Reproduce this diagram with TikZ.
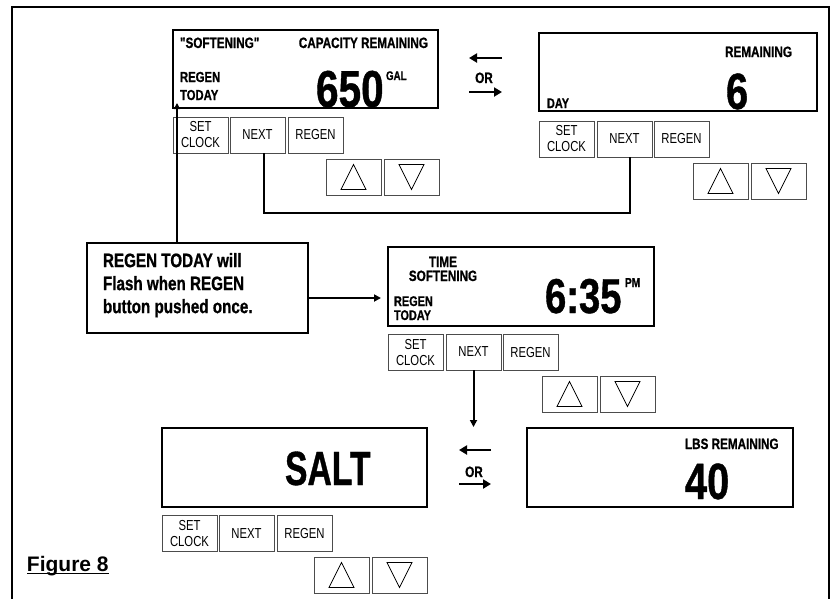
\documentclass[tikz,border=0pt]{standalone}
\usepackage{fontspec}
\setmainfont{Liberation Sans}
\newfontfamily\cond[FakeStretch=0.78, BoldFeatures={FakeBold=0.8}]{Liberation Sans}
\usetikzlibrary{arrows.meta,calc}
\newcommand\dfont[1]{\cond\bfseries\fontsize{#1}{#1}\selectfont}
\newcommand\udpair[3]{%
  \node[btn] (#1u) at (#2,#3) {};
  \node[btn] (#1d) at ($(#2,#3)+(58,0)$) {};
  \draw[tri] ($(#1u.center)+(-12.5,12.5)$) -- ($(#1u.center)+(12.5,12.5)$) -- ($(#1u.center)+(0,-12.5)$) -- cycle;
  \draw[tri] ($(#1d.center)+(-12.5,-12.5)$) -- ($(#1d.center)+(12.5,-12.5)$) -- ($(#1d.center)+(0,12.5)$) -- cycle;
}
\tikzset{
  frame/.style={line width=2.5pt},
  disp/.style={draw, line width=2.2pt, inner sep=0, outer sep=0, anchor=north west},
  btn/.style={draw=black!70, line width=0.9pt, inner sep=0, outer sep=0,
    minimum width=55, minimum height=36, anchor=north west, align=center,
    font=\cond\fontsize{14.5}{16}\selectfont},
  tri/.style={line width=0.8pt},
  dt/.style={inner sep=0, outer sep=0, anchor=base west},
  conn/.style={line width=2pt},
  thinconn/.style={line width=1.3pt},
  arr/.style={line width=2pt, -{Triangle[length=7pt,width=7pt]}},
  orarr/.style={line width=2.6pt, -{Triangle[length=8pt,width=9pt]}},
  callout/.style={draw, line width=2pt, inner sep=0, outer sep=0, anchor=north west},
}
\begin{document}
\begin{tikzpicture}[x=1pt,y=-1pt]
\useasboundingbox (0,0) rectangle (832,598);
\draw[frame] (12,602) -- (12,7) -- (829,7) -- (829,602);

% display 1
\node[disp, minimum width=265, minimum height=78] (d1) at (173,30) {};
\node[dt, font=\dfont{15}] (t1a) at (180,48) {"SOFTENING"};
\node[dt, font=\dfont{15}, anchor=base east] (t1b) at (428,48) {CAPACITY REMAINING};
\node[dt, font=\dfont{14.5}] (t1c) at (180,82) {REGEN};
\node[dt, font=\dfont{14.5}] (t1d) at (180,100) {TODAY};
\node[dt, font=\dfont{52}] (t1e) at (316,107) {650};
\node[dt, font=\dfont{12.5}] (t1f) at (386,80) {GAL};
\node[btn] (s1) at (173,117) {SET\\CLOCK};
\node[btn] (n1) at (230,117) {NEXT};
\node[btn] (r1) at (288,117) {REGEN};
\udpair{a1}{326}{159}

% OR top
\coordinate (o1a) at (469,58);
\coordinate (o1b) at (502,58);
\coordinate (o1c) at (469,92);
\coordinate (o1d) at (502,92);
\draw[orarr] (o1b) -- (o1a);
\draw[orarr] (o1c) -- (o1d);
\node[dt, anchor=base, font=\dfont{15}] (or1) at (484,83) {OR};

% display 2
\node[disp, minimum width=278, minimum height=78] (d2) at (539,33) {};
\node[dt, font=\dfont{15}, anchor=base east] (t2a) at (792,57) {REMAINING};
\node[dt, font=\dfont{51}] (t2b) at (726,109) {6};
\node[dt, font=\dfont{14}] (t2c) at (547,108) {DAY};
\node[btn] (s2) at (539,121) {SET\\CLOCK};
\node[btn] (n2) at (597,121) {NEXT};
\node[btn] (r2) at (654,121) {REGEN};
\udpair{a2}{693}{163}

\draw[conn] ([xshift=6pt]n1.south) -- ++(0,60) -| ([xshift=5pt]n2.south);

% callout
\node[callout, minimum width=221, minimum height=90] (co) at (87,243) {};
\node[inner sep=0, outer sep=0, anchor=north west, align=left,
  font=\cond\bfseries\fontsize{19.5}{23}\selectfont] (cot) at (103,253)
  {REGEN TODAY will\\Flash when REGEN\\button pushed once.};
\coordinate (p1) at (177,103);
\draw[line width=2pt, -{Triangle[length=6pt,width=6pt]}] (co.north -| p1) -- (p1);
\coordinate (p2m) at (348,298);
\coordinate (p2) at (381,298);
\draw[thinconn] (co.east |- p2m) -- (p2m);
\draw[arr] (p2m) -- (p2);

% display 3
\node[disp, minimum width=266, minimum height=79] (d3) at (388,247) {};
\node[dt, anchor=base, font=\dfont{15}] (t3a) at (443,267) {TIME};
\node[dt, anchor=base, font=\dfont{15}] (t3b) at (443,281) {SOFTENING};
\node[dt, font=\dfont{14}] (t3c) at (394,306) {REGEN};
\node[dt, font=\dfont{14}] (t3d) at (394,320) {TODAY};
\node[dt, font=\dfont{49}] (t3e) at (545,313) {6:35};
\node[dt, font=\dfont{13}] (t3f) at (625,287) {PM};
\node[btn] (s3) at (388,334) {SET\\CLOCK};
\node[btn] (n3) at (446,334) {NEXT};
\node[btn] (r3) at (503,334) {REGEN};
\udpair{a3}{542}{376}
\draw[arr] (n3.south) -- ++(0,57);

% OR bottom
\coordinate (o2a) at (459,450);
\coordinate (o2b) at (491,450);
\coordinate (o2c) at (459,484);
\coordinate (o2d) at (491,484);
\draw[orarr] (o2b) -- (o2a);
\draw[orarr] (o2c) -- (o2d);
\node[dt, anchor=base, font=\dfont{15}] (or2) at (474,477) {OR};

% display 4
\node[disp, minimum width=265, minimum height=79] (d4) at (162,428) {};
\node[dt, font=\dfont{48}] (t4a) at (285,485) {\scalebox{0.9}[1]{SALT}};
\node[btn] (s4) at (162,515) {SET\\CLOCK};
\node[btn] (n4) at (219,515) {NEXT};
\node[btn] (r4) at (277,515) {REGEN};
\udpair{a4}{314}{557}

% display 5
\node[disp, minimum width=266, minimum height=79] (d5) at (527,428) {};
\node[dt, font=\dfont{15}] (t5a) at (685,449) {LBS REMAINING};
\node[dt, font=\dfont{51}] (t5b) at (685,499) {40};

% figure label
\node[dt, font=\bfseries\fontsize{21}{21}\selectfont] (fig) at (27,571) {Figure 8};
\draw[line width=1.3pt] ([yshift=-2.5pt]fig.base west) -- ([yshift=-2.5pt]fig.base east);
\end{tikzpicture}
\end{document}
